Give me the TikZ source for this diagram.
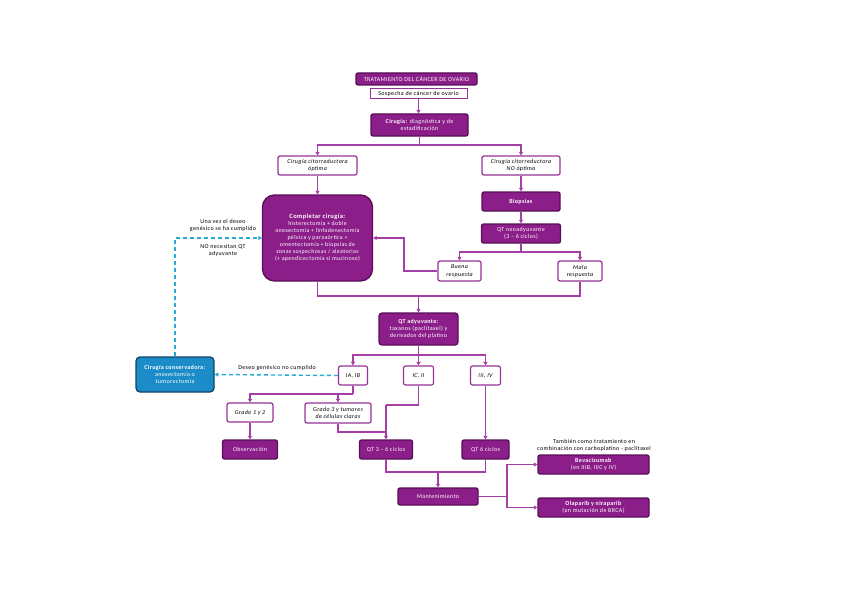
\documentclass[tikz,border=0pt]{standalone}
\usepackage{fontspec}
\setmainfont{Carlito}[LetterSpace=6]
\usetikzlibrary{arrows.meta}
\definecolor{pfill}{RGB}{140,30,138}
\definecolor{pdark}{RGB}{88,14,86}
\definecolor{pline}{RGB}{165,62,165}
\definecolor{wborder}{RGB}{150,50,150}
\definecolor{bfill}{RGB}{28,140,200}
\definecolor{bdark}{RGB}{14,68,108}
\definecolor{bdash}{RGB}{40,170,215}
\begin{document}
\begin{tikzpicture}[x=1pt,y=-1pt,
  base/.style={inner sep=1pt, align=center, font=\fontsize{6}{7.2}\selectfont},
  pbox/.style={base, draw=pdark, fill=pfill, text=white, line width=1.3pt, rounded corners=2pt},
  wbox/.style={base, draw=wborder, fill=white, text=black, line width=1.2pt, rounded corners=2pt, font=\fontsize{6}{7.2}\selectfont\itshape},
  bbox/.style={base, draw=bdark, fill=bfill, text=white, line width=1.3pt, rounded corners=4pt},
  conn/.style={draw=pline, line width=1.3pt},
  arr/.style={conn, -{Triangle[length=3.5pt,width=4pt]}},
  darr/.style={draw=bdash, line width=1.4pt, dash pattern=on 4pt off 3pt, -{Triangle[length=3.5pt,width=4pt]}},
  note/.style={base, text=black}
]
\useasboundingbox (0,0) rectangle (848,599);

% nodes
\node[pbox, minimum width=121pt, minimum height=12pt] (title) at (416.5,79) {TRATAMIENTO DEL CÁNCER DE OVARIO};
\node[wbox, minimum width=97pt, minimum height=10pt, font=\fontsize{6}{7.2}\selectfont, rounded corners=0pt, line width=1pt] (sosp) at (418.5,93.5) {Sospecha de cáncer de ovario};
\node[pbox, minimum width=97pt, minimum height=22pt] (ciru) at (419.5,125) {\textbf{Cirugía:} diagnóstica y de\\estadificación};
\node[wbox, minimum width=79pt, minimum height=19pt] (opt) at (317.5,165.5) {Cirugía citorreductora\\óptima};
\node[wbox, minimum width=78pt, minimum height=19pt] (nopt) at (521,165.5) {Cirugía citorreductora\\NO óptima};
\node[pbox, minimum width=110pt, minimum height=86pt, rounded corners=12pt, font=\fontsize{5.9}{7}\selectfont] (comp) at (317.5,238) {{\fontsize{6.5}{8}\selectfont\textbf{Completar cirugía:}}\\histerectomía + doble\\anexectomía + linfadenectomía\\pélvica y paraaórtica +\\omentectomía + biopsias de\\zonas sospechosas / aleatorias\\(+ apendicectomía si mucinoso)};
\node[pbox, minimum width=78pt, minimum height=19pt] (biop) at (521,201.5) {\textbf{Biopsias}};
\node[pbox, minimum width=79pt, minimum height=19pt] (neo) at (521,233.5) {QT neoadyuvante\\(3 – 6 ciclos)};
\node[wbox, minimum width=43pt, minimum height=20pt] (buena) at (459.5,271) {Buena\\respuesta};
\node[wbox, minimum width=44pt, minimum height=20pt] (mala) at (580,271) {Mala\\respuesta};
\node[pbox, minimum width=79pt, minimum height=32pt, rounded corners=3pt] (adyu) at (418.5,329) {\textbf{QT adyuvante:}\\taxanos (paclitaxel) y\\derivados del platino};
\node[bbox, minimum width=78pt, minimum height=35pt] (cons) at (175,374.5) {\textbf{Cirugía conservadora:}\\anexectomía o\\tumorectomía};
\node[wbox, minimum width=29pt, minimum height=19pt] (ia) at (353,375.5) {IA, IB};
\node[wbox, minimum width=30pt, minimum height=19pt] (ic) at (418.5,375.5) {IC, II};
\node[wbox, minimum width=30pt, minimum height=19pt] (iii) at (485.5,375.5) {III, IV};
\node[wbox, minimum width=46pt, minimum height=19pt] (g12) at (250,412.5) {Grado 1 y 2};
\node[wbox, minimum width=66pt, minimum height=20pt] (g3) at (338,413) {Grado 3 y tumores\\de células claras};
\node[pbox, minimum width=55pt, minimum height=19pt] (obs) at (250,449.5) {Observación};
\node[pbox, minimum width=53pt, minimum height=19pt] (qt36) at (386,449.5) {QT 3 – 6 ciclos};
\node[pbox, minimum width=47pt, minimum height=19pt] (qt6) at (485.5,449.5) {QT 6 ciclos};
\node[pbox, minimum width=80pt, minimum height=17pt] (mant) at (438,496.5) {Mantenimiento};
\node[pbox, minimum width=111pt, minimum height=19pt] (bev) at (593.5,464.5) {\textbf{Bevacizumab}\\(en IIIB, IIIC y IV)};
\node[pbox, minimum width=111pt, minimum height=19pt] (ola) at (593.5,507.5) {\textbf{Olaparib y niraparib}\\(en mutación de BRCA)};
\node[note] (tamb) at (594,445) {También como tratamiento en\\combinación con carboplatino - paclitaxel};
\node[note] (deseo) at (277,368) {Deseo genésico no cumplido};
\node[note] (una) at (223,225.5) {Una vez el deseo\\genésico se ha cumplido};
\node[note] (nonec) at (223,250.5) {NO necesitan QT\\adyuvante};

% connectors
\draw[arr] (sosp.south) -- (sosp.south |- ciru.north);
\coordinate (s1) at (419.5,145);
\draw[conn] (ciru.south) -- (s1);
\draw[arr] (s1) -| (opt.north);
\draw[arr] (s1) -| (nopt.north);
\draw[arr] (opt.south) -- (comp.north);
\draw[arr] (nopt.south) -- (biop.north);
\draw[arr] (biop.south) -- (neo.north);
\coordinate (s2) at (521,252);
\draw[conn] (neo.south) -- (s2);
\draw[arr] (s2) -| (buena.north);
\draw[arr] (s2) -| (mala.north);
\coordinate (s3) at (404,271);
\draw[arr] (buena.west) -- (s3) |- (comp.east);
\coordinate (s4) at (418.5,296);
\draw[conn] (comp.south) |- (s4);
\draw[conn] (mala.south) |- (s4);
\draw[arr] (s4) -- (adyu.north);
\coordinate (s5) at (418.5,355);
\draw[conn] (adyu.south) -- (s5);
\draw[arr] (s5) -| (ia.north);
\draw[arr] (s5) -- (ic.north);
\draw[arr] (s5) -| (iii.north);
\draw[darr] (ia.west) -- (cons.east);
\coordinate (s6) at (175,238);
\draw[darr] (cons.north) -- (s6) -- (comp.west);
\coordinate (s7) at (353,394);
\draw[conn] (ia.south) -- (s7);
\draw[arr] (s7) -| (g12.north);
\draw[arr] (s7) -| (g3.north);
\draw[arr] (g12.south) -- (obs.north);
\coordinate (s8) at (418.5,405);
\coordinate (s9) at (386,405);
\draw[conn] (ic.south) -- (s8) -- (s9);
\draw[arr] (s9) -- (qt36.north);
\coordinate (s10) at (338,432);
\draw[conn] (g3.south) -- (s10) -- (s9 |- s10);
\draw[arr] (iii.south) -- (qt6.north);
\coordinate (s11) at (438,472);
\draw[conn] (qt36.south) |- (s11);
\draw[conn] (qt6.south) |- (s11);
\draw[arr] (s11) -- (mant.north);
\coordinate (s12) at (507,496.5);
\draw[conn] (mant.east) -- (s12);
\draw[arr] (s12) |- (bev.west);
\draw[arr] (s12) |- (ola.west);
\end{tikzpicture}
\end{document}
